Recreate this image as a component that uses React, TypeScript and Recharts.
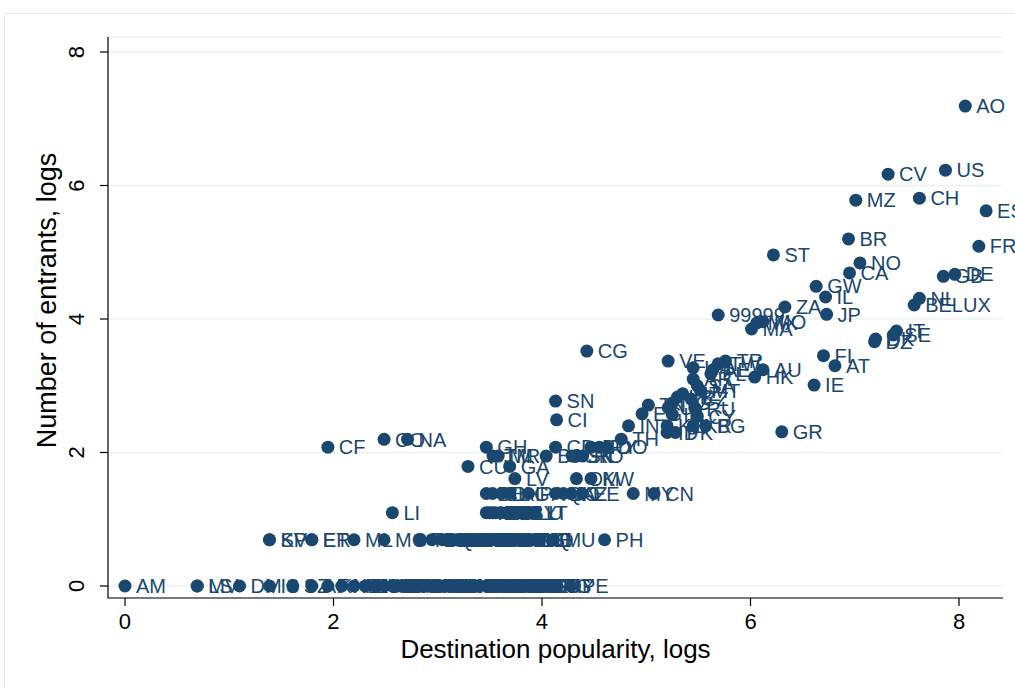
import React from 'react';
import { ScatterChart, Scatter, XAxis, YAxis, CartesianGrid } from 'recharts';

const NAVY = '#1a476f';
const FONT = '"Liberation Sans", Arial, Helvetica, sans-serif';

const xTicks = [0, 2, 4, 6, 8];
const yTicks = [0, 2, 4, 6, 8];

// destination codes
const codes = [
  'AO', 'US', 'CV', 'CH', 'MZ', 'ES', 'BR', 'FR', 'ST', 'NO', 'CA', 'DE', 'GB', 'GW', 'IL', 'NL', 'BELUX', 'ZA', 'JP', '99999',
  'MO', 'MX', 'MA', 'IT', 'SE', 'DK', 'DZ', 'CG', 'FI', 'VE', 'TR', 'TW', 'UA', 'AE', 'AU', 'PL', 'HK', 'AR', 'AT', 'IE',
  'SA', 'MT', 'NZ', 'LB', 'CZ', 'SN', 'TG', 'TN', 'UY', 'RU', 'EG', 'IR', 'CY', 'CI', 'IN', 'KE', 'KR', 'BG', 'ID', 'PK',
  'GR', 'TH', 'CO', 'NA', 'CF', 'GH', 'CD', 'BO', 'PY', 'DO', 'TM', 'MR', 'BJ', 'GN', 'SK', 'RO', 'CU', 'GA', 'LV', 'OM', 'KW',
  'BI', 'CL', 'BH', 'AG', 'PA', 'QA', 'JO', 'KZ', 'EE', 'MY', 'CN',
  'LI', 'HR', 'CR', 'EC', 'ZM', 'HU', 'SI', 'BY', 'LU', 'LT',
  'KP', 'SV', 'ER', 'ET', 'ML', 'MG', 'TD', 'GQ', 'SO', 'YE', 'SD', 'LY', 'SY', 'NG', 'UG', 'TZ', 'RW', 'BW', 'SC', 'BF',
  'CM', 'GM', 'MD', 'AL', 'BA', 'RS', 'ME', 'AD', 'IQ', 'MU', 'PH',
  'AM', 'MV', 'LS', 'DM', 'IS', 'SZ', 'AF', 'KI', 'NE', 'MK', 'ZW', 'GE', 'AZ', 'BT', 'KG', 'TJ', 'MN', 'LA', 'KH', 'MM',
  'NP', 'BD', 'LK', 'JM', 'HT', 'BS', 'BB', 'TT', 'GY', 'SR', 'BZ', 'HN', 'NI', 'GT', 'BN', 'PS', 'SL', 'LR', 'GD', 'FJ',
  'PG', 'KY', 'PE',
];

// destination popularity, logs
const popularity = [
  8.06, 7.87, 7.32, 7.62, 7.01, 8.26, 6.94, 8.19, 6.22, 7.05, 6.95, 7.96, 7.85, 6.63, 6.72, 7.62, 7.57, 6.33, 6.73, 5.69,
  6.12, 6.06, 6.01, 7.4, 7.37, 7.2, 7.19, 4.43, 6.7, 5.21, 5.76, 5.69, 5.45, 5.64, 6.12, 5.62, 6.04, 5.45, 6.81, 6.61,
  5.49, 5.52, 5.35, 5.3, 5.43, 4.13, 5.25, 5.02, 5.21, 5.47, 4.96, 5.25, 5.49, 4.14, 4.83, 5.2, 5.45, 5.57, 5.2, 5.28,
  6.3, 4.76, 2.485, 2.71, 1.946, 3.466, 4.13, 4.47, 4.55, 4.62, 3.53, 3.58, 4.04, 4.29, 4.33, 4.39, 3.29, 3.69, 3.74, 4.33, 4.47,
  3.466, 3.526, 3.611, 3.689, 3.871, 4.13, 4.205, 4.277, 4.382, 4.875, 5.075,
  2.565, 3.466, 3.497, 3.526, 3.555, 3.611, 3.689, 3.784, 3.85, 3.932,
  1.386, 1.386, 1.792, 1.792, 2.197, 2.485, 2.833, 2.944, 3.045, 3.091, 3.135, 3.178, 3.219, 3.258, 3.296, 3.332, 3.367, 3.434, 3.497, 3.555,
  3.611, 3.664, 3.714, 3.761, 3.807, 3.85, 3.892, 3.932, 3.97, 4.11, 4.6,
  0, 0.693, 0.693, 1.099, 1.386, 1.609, 1.792, 1.946, 2.079, 2.197, 2.303, 2.398, 2.485, 2.565, 2.639, 2.708, 2.773, 2.833, 2.89, 2.944,
  2.996, 3.045, 3.091, 3.178, 3.258, 3.332, 3.401, 3.466, 3.526, 3.584, 3.638, 3.689, 3.738, 3.784, 3.829, 3.871, 3.912, 3.951, 3.989, 4.043,
  4.094, 4.143, 4.277,
];

// number of entrants, logs
const entrants = [
  7.19, 6.23, 6.17, 5.81, 5.78, 5.62, 5.2, 5.09, 4.96, 4.84, 4.69, 4.67, 4.64, 4.49, 4.33, 4.31, 4.21, 4.18, 4.07, 4.06,
  3.96, 3.94, 3.85, 3.82, 3.76, 3.7, 3.66, 3.52, 3.45, 3.37, 3.37, 3.33, 3.27, 3.24, 3.24, 3.18, 3.13, 3.1, 3.3, 3.01,
  3.0, 2.93, 2.88, 2.83, 2.8, 2.77, 2.74, 2.71, 2.67, 2.66, 2.58, 2.57, 2.54, 2.49, 2.4, 2.4, 2.4, 2.4, 2.3, 2.3,
  2.31, 2.2, 2.197, 2.197, 2.079, 2.079, 2.079, 2.079, 2.079, 2.079, 1.946, 1.946, 1.946, 1.946, 1.946, 1.946, 1.792, 1.792, 1.609, 1.609, 1.609,
  1.386, 1.386, 1.386, 1.386, 1.386, 1.386, 1.386, 1.386, 1.386, 1.386, 1.386,
  1.099, 1.099, 1.099, 1.099, 1.099, 1.099, 1.099, 1.099, 1.099, 1.099,
  0.693, 0.693, 0.693, 0.693, 0.693, 0.693, 0.693, 0.693, 0.693, 0.693, 0.693, 0.693, 0.693, 0.693, 0.693, 0.693, 0.693, 0.693, 0.693, 0.693,
  0.693, 0.693, 0.693, 0.693, 0.693, 0.693, 0.693, 0.693, 0.693, 0.693, 0.693,
  0, 0, 0, 0, 0, 0, 0, 0, 0, 0, 0, 0, 0, 0, 0, 0, 0, 0, 0, 0,
  0, 0, 0, 0, 0, 0, 0, 0, 0, 0, 0, 0, 0, 0, 0, 0, 0, 0, 0, 0,
  0, 0, 0,
];

const data = codes.map((c, i) => ({ code: c, x: popularity[i], y: entrants[i] }));

const Marker = (props: any) => {
  const { cx, cy, payload } = props;
  if (cx == null || cy == null) return null;
  return (
    <g>
      <circle cx={cx} cy={cy} r={6.5} fill={NAVY} />
      <text x={cx + 11} y={cy} dy="0.36em" fontSize={20} fill={NAVY} fontFamily={FONT}>
        {payload.code}
      </text>
    </g>
  );
};

const XTick = (props: any) => {
  const { x, y, payload } = props;
  return (
    <text x={x} y={y} dy={21} textAnchor="middle" fontSize={22} fill="#000" fontFamily={FONT}>
      {payload.value}
    </text>
  );
};

const YTick = (props: any) => {
  const { x, y, payload } = props;
  const bx = x - 14;
  return (
    <text x={bx} y={y} transform={`rotate(-90, ${bx}, ${y})`} textAnchor="middle" fontSize={22} fill="#000" fontFamily={FONT}>
      {payload.value}
    </text>
  );
};

export default function App() {
  return (
    <div style={{ position: 'absolute', left: 0, top: 0, width: 1015, height: 688, background: '#fff', overflow: 'hidden' }}>
      <div
        style={{
          position: 'absolute',
          left: 4,
          top: 13,
          width: 1020,
          height: 690,
          borderTop: '1px solid #e3eaed',
          borderLeft: '1px solid #e3eaed',
        }}
      />
      <div style={{ position: 'absolute', left: 0, top: 0 }}>
        <ScatterChart width={1015} height={688} margin={{ top: 37, right: 12, bottom: 0, left: 0 }} style={{ overflow: 'visible' }}>
          <CartesianGrid vertical={false} stroke="#eaf2f3" strokeWidth={1.5} />
          <XAxis
            type="number"
            dataKey="x"
            domain={[-0.163, 8.422]}
            ticks={xTicks}
            height={90}
            tickSize={8}
            axisLine={{ stroke: '#000', strokeWidth: 1.2 }}
            tickLine={{ stroke: '#000', strokeWidth: 1.2 }}
            tick={<XTick />}
            label={{
              content: (p: any) => {
                const vb = p.viewBox;
                return (
                  <text x={vb.x + vb.width / 2} y={vb.y + 60} textAnchor="middle" fontSize={26} fill="#000" fontFamily={FONT}>
                    Destination popularity, logs
                  </text>
                );
              },
            }}
          />
          <YAxis
            type="number"
            dataKey="y"
            domain={[-0.18, 8.225]}
            ticks={yTicks}
            width={108}
            tickSize={8}
            axisLine={{ stroke: '#000', strokeWidth: 1.2 }}
            tickLine={{ stroke: '#000', strokeWidth: 1.2 }}
            tick={<YTick />}
            label={{
              content: (p: any) => {
                const vb = p.viewBox;
                const cx = vb.x + 56;
                const cy = vb.y + vb.height / 2 - 17;
                return (
                  <text x={cx} y={cy} transform={`rotate(-90, ${cx}, ${cy})`} textAnchor="middle" fontSize={27} fill="#000" fontFamily={FONT}>
                    Number of entrants, logs
                  </text>
                );
              },
            }}
          />
          <Scatter data={data} fill={NAVY} shape={<Marker />} isAnimationActive={false} />
        </ScatterChart>
      </div>
    </div>
  );
}
